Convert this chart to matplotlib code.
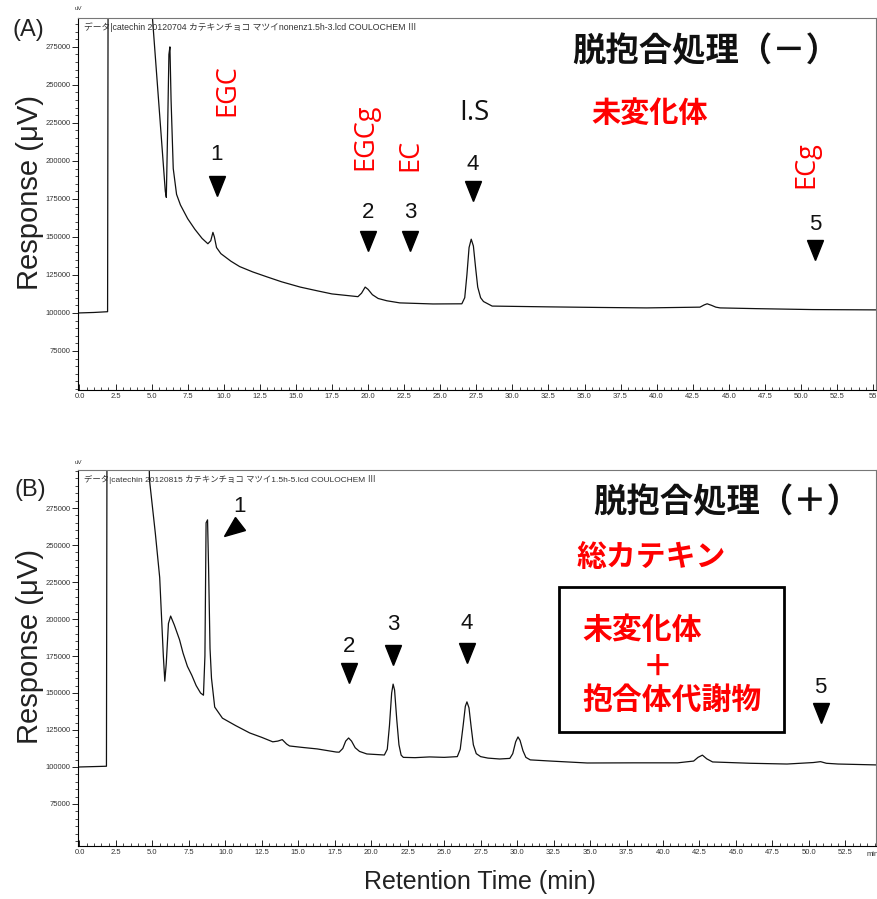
import matplotlib
matplotlib.use("Agg")
import matplotlib.pyplot as plt
from matplotlib.markers import MarkerStyle
from matplotlib.patches import Rectangle
from matplotlib.ticker import MultipleLocator, FixedLocator
from matplotlib.transforms import Affine2D

plt.rcParams["font.family"] = ["Liberation Sans", "Noto Sans CJK JP", "DejaVu Sans"]

# chromatogram (A): no deconjugation, time in min, response in uV
a_time = [0.0, 1.0, 1.95, 2.0, 4.9, 5.06, 5.6, 5.95, 6.02, 6.1, 6.2, 6.27, 6.35, 6.5,
          6.73, 7.0, 7.5, 8.0, 8.5, 8.9, 9.1, 9.25, 9.35, 9.5, 9.8, 10.5, 11.1, 12.0,
          13.0, 14.0, 15.3, 16.5, 17.5, 18.5, 19.3, 19.55, 19.8, 20.0, 20.3, 20.7,
          21.3, 22.2, 24.5, 26.5, 26.7, 26.85, 27.0, 27.15, 27.3, 27.45, 27.6, 27.8,
          28.0, 28.3, 28.6, 32.4, 36.0, 39.3, 43.0, 43.3, 43.5, 43.8, 44.1, 44.4,
          47.0, 50.8, 55.2]
a_resp = [100000, 100300, 100800, 400000, 400000, 294000, 225000, 180000, 176000,
          215000, 270000, 275000, 240000, 195000, 178000, 171000, 162000, 155000,
          149000, 145500, 147500, 153000, 150000, 143000, 139000, 134000, 130500,
          127000, 123700, 120500, 117000, 114500, 112500, 111500, 110700, 113000,
          117000, 115500, 112000, 109500, 108000, 106600, 105900, 106000, 110000,
          125000, 143000, 148500, 144000, 130000, 117000, 110000, 107500, 106000,
          104500, 104000, 103600, 103300, 103800, 105300, 106000, 105000, 103800,
          103300, 102800, 102200, 102000]

# chromatogram (B): with deconjugation
b_time = [0.0, 1.85, 1.9, 4.6, 4.8, 5.2, 5.5, 5.75, 5.85, 5.95, 6.1, 6.25, 6.5, 6.86,
          7.1, 7.4, 7.7, 8.0, 8.3, 8.5, 8.6, 8.68, 8.78, 8.85, 8.95, 9.05, 9.27, 9.8,
          10.7, 11.67, 12.5, 13.25, 13.6, 13.9, 14.2, 14.4, 15.3, 16.3, 17.6, 17.8,
          18.05, 18.25, 18.45, 18.65, 18.9, 19.2, 19.7, 20.9, 21.1, 21.25, 21.4, 21.5,
          21.6, 21.75, 21.9, 22.05, 22.2, 23.0, 24.0, 25.0, 25.9, 26.1, 26.3, 26.45,
          26.56, 26.7, 26.85, 27.0, 27.2, 27.5, 28.0, 28.8, 29.5, 29.7, 29.9, 30.06,
          30.2, 30.4, 30.6, 30.9, 32.3, 34.8, 38.0, 41.0, 42.1, 42.4, 42.7, 43.0,
          43.4, 46.0, 48.5, 50.3, 50.8, 51.2, 52.0, 54.6]
b_resp = [100000, 100500, 400000, 400000, 294000, 258000, 228000, 175000, 158000,
          170000, 197000, 202000, 196000, 186000, 177000, 168000, 162000, 155000,
          150000, 148500, 175000, 265000, 267000, 235000, 180000, 160000, 140500,
          133000, 128000, 123000, 120000, 117000, 117500, 118500, 115500, 114200,
          113200, 112200, 110100, 110000, 112500, 117500, 119600, 117500, 113000,
          110500, 108800, 108100, 112000, 128000, 150000, 156000, 152000, 132000,
          115000, 108000, 106500, 106300, 106800, 106500, 107000, 112000, 128000,
          141000, 144000, 140000, 127000, 115000, 109000, 107000, 106000, 105400,
          105800, 109000, 117000, 120300, 118000, 111000, 106500, 104800, 104000,
          102700, 102800, 102800, 104000, 106500, 108000, 105500, 103400, 102500,
          102000, 103000, 103600, 102500, 102000, 101400]

y_ticks = [75000, 100000, 125000, 150000, 175000, 200000, 225000, 250000, 275000]
x_ticks_a = [0.0, 2.5, 5.0, 7.5, 10.0, 12.5, 15.0, 17.5, 20.0, 22.5, 25.0, 27.5, 30.0,
             32.5, 35.0, 37.5, 40.0, 42.5, 45.0, 47.5, 50.0, 52.5, 55.0]
x_ticks_b = x_ticks_a[:-1]

# peak labels: (number, time, response of number, response of arrow)
peaks_a = [("1", 9.5, 204000, 183500), ("2", 20.0, 165800, 147400),
           ("3", 22.9, 165800, 147400), ("4", 27.25, 197400, 180300),
           ("5", 51.0, 157900, 141400)]
names_a = [("EGC", 10.26, 246700), ("EGCg", 19.83, 215800), ("EC", 22.95, 204000),
           ("ECg", 50.35, 197400)]
peaks_b = [("2", 18.46, 181100, 163500), ("3", 21.48, 196000, 175700),
           ("4", 26.56, 197300, 177000), ("5", 50.8, 153400, 136500)]

W, H = 877, 899
fig = plt.figure(figsize=(W / 100, H / 100), dpi=100)


def px_axes(left, top, right, bottom):
    return fig.add_axes([left / W, 1 - bottom / H, (right - left) / W, (bottom - top) / H])


def style_axes(ax, xlim, ylim, xticks, xlabels):
    ax.set_xlim(*xlim)
    ax.set_ylim(*ylim)
    ax.yaxis.set_major_locator(FixedLocator(y_ticks))
    ax.yaxis.set_minor_locator(MultipleLocator(5000))
    ax.set_yticklabels([str(v) for v in y_ticks])
    ax.xaxis.set_major_locator(FixedLocator(xticks))
    ax.xaxis.set_minor_locator(MultipleLocator(0.5))
    ax.set_xticklabels(xlabels)
    ax.tick_params(axis="y", which="major", length=4, width=0.6, labelsize=5.5,
                   labelcolor="#333333", pad=1.5)
    ax.tick_params(axis="y", which="minor", length=2, width=0.5)
    ax.tick_params(axis="x", which="major", direction="in", length=4, width=0.6,
                   labelsize=5.5, labelcolor="#333333", pad=2)
    ax.tick_params(axis="x", which="minor", direction="in", length=2, width=0.5)
    for side in ["top", "right"]:
        ax.spines[side].set_color("#777777")
        ax.spines[side].set_linewidth(0.8)
    for side in ["left", "bottom"]:
        ax.spines[side].set_linewidth(0.8)
    ax.set_ylabel("Response (μV)", fontsize=21, color="#222222")
    ax.yaxis.set_label_coords(-0.042, 0.53)


red = "#ff0000"
cjk = ["Noto Sans CJK JP", "DejaVu Sans"]
latin = ["Open Sans", "DejaVu Sans"]
head = ["Liberation Sans", "Noto Sans CJK JP", "DejaVu Sans"]
arrow = MarkerStyle("v", transform=Affine2D().scale(1.0, 1.25))
tilted = MarkerStyle("v", transform=Affine2D().scale(1.0, 1.25).rotate_deg(-50))

# ---------- panel A ----------
ax1 = px_axes(78, 18, 876, 390)
ax1.plot(a_time, a_resp, color="#111111", lw=0.9)
style_axes(ax1, (-0.1, 55.2), (49300, 294000), x_ticks_a,
           ["%.1f" % t for t in x_ticks_a[:-1]] + ["55"])

for num, t, vn, va in peaks_a:
    ax1.text(t, vn, num, fontsize=16, ha="center", va="center", color="#111111")
    ax1.plot(t, va, marker=arrow, ms=11.5, color="black", ls="none")
for name, t, v in names_a:
    ax1.text(t, v, name, fontsize=19.5, rotation=90, ha="center", va="center",
             color=red, family=latin)
ax1.text(27.4, 231600, "I.S", fontsize=20, ha="center", va="center", color="#111111",
         family=latin)
ax1.text(39.5, 231600, "未変化体", fontsize=21, fontweight="bold", ha="center",
         va="center", color=red, family=cjk)
ax1.text(43.4, 271700, "脱抱合処理（－）", fontsize=24, fontweight="bold", ha="center",
         va="center", color="#111111", family=cjk)
ax1.text(0.008, 0.988, "データ|catechin 20120704 カテキンチョコ マツイnonenz1.5h-3.lcd COULOCHEM Ⅲ",
         transform=ax1.transAxes, fontsize=6.3, ha="left", va="top", color="#333333",
         family=head)

# ---------- panel B ----------
ax2 = px_axes(78, 470, 876, 846)
ax2.plot(b_time, b_resp, color="#111111", lw=0.9)
style_axes(ax2, (-0.1, 54.6), (46600, 300700), x_ticks_b,
           ["%.1f" % t for t in x_ticks_b])
ax2.annotate("min", (54.35, 0), xytext=(0, -3.5), textcoords="offset points",
             xycoords=("data", "axes fraction"), fontsize=5.5, ha="center", va="top",
             color="#333333")

for num, t, vn, va in peaks_b:
    ax2.text(t, vn, num, fontsize=16, ha="center", va="center", color="#111111")
    ax2.plot(t, va, marker=arrow, ms=11.5, color="black", ls="none")
ax2.text(10.98, 275700, "1", fontsize=16, ha="center", va="center", color="#111111")
ax2.plot(10.43, 260100, marker=tilted, ms=11.5, color="black", ls="none")

ax2.text(44.4, 278400, "脱抱合処理（＋）", fontsize=24, fontweight="bold", ha="center",
         va="center", color="#111111", family=cjk)
ax2.text(39.2, 241900, "総カテキン", fontsize=21.5, fontweight="bold", ha="center",
         va="center", color=red, family=cjk)
ax2.add_patch(Rectangle((32.88, 123600), 48.3 - 32.88, 221600 - 123600, fill=False,
                        lw=2, edgecolor="black"))
ax2.text(34.45, 192600, "未変化体", fontsize=21.5, fontweight="bold", ha="left",
         va="center", color=red, family=cjk)
ax2.text(39.6, 167600, "＋", fontsize=21.5, fontweight="bold", ha="center",
         va="center", color=red, family=cjk)
ax2.text(34.45, 145300, "抱合体代謝物", fontsize=21.5, fontweight="bold", ha="left",
         va="center", color=red, family=cjk)
ax2.text(0.008, 0.988, "データ|catechin 20120815 カテキンチョコ マツイ1.5h-5.lcd COULOCHEM Ⅲ",
         transform=ax2.transAxes, fontsize=6, ha="left", va="top", color="#333333",
         family=head)

# ---------- figure labels ----------
fig.text(28 / W, 1 - 30 / H, "(A)", fontsize=17, ha="center", va="center", color="#222222")
fig.text(30 / W, 1 - 490 / H, "(B)", fontsize=17, ha="center", va="center", color="#222222")
fig.text(78 / W, 1 - 9 / H, "uV", fontsize=4.5, ha="center", va="center", color="#333333")
fig.text(78 / W, 1 - 462 / H, "uV", fontsize=4.5, ha="center", va="center", color="#333333")
fig.text(480 / W, 1 - 882 / H, "Retention Time (min)", fontsize=18, ha="center",
         va="center", color="#222222")

fig.savefig("out.png", dpi=100)
